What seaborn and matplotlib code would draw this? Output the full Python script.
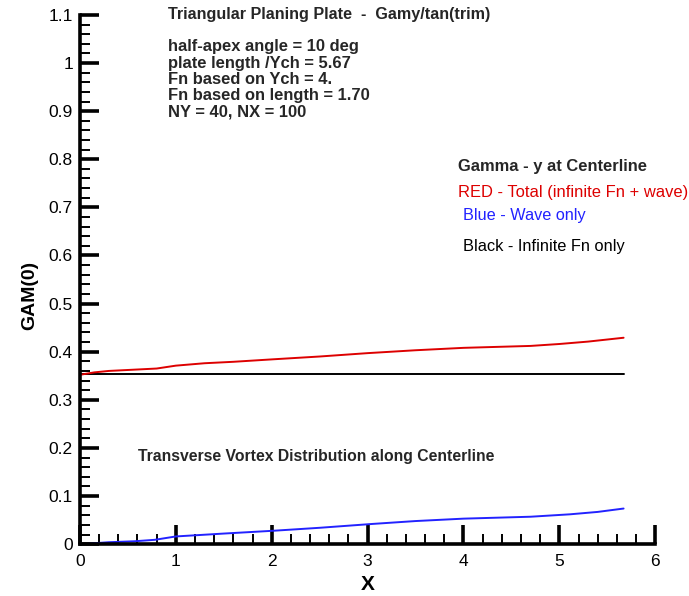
import matplotlib
matplotlib.use("Agg")
import matplotlib.pyplot as plt
import seaborn as sns
import numpy as np
import pandas as pd
from matplotlib.ticker import MultipleLocator, FuncFormatter

# Data
x_red = [0.0, 0.15, 0.3, 0.5, 0.8, 1.0, 1.3, 1.6, 2.0, 2.5, 3.0, 3.5, 4.0, 4.35, 4.7, 5.0, 5.3, 5.67]
gam_total = [0.352, 0.357, 0.360, 0.362, 0.365, 0.371, 0.376, 0.379, 0.384, 0.390, 0.397, 0.403, 0.408, 0.410, 0.412, 0.416, 0.421, 0.429]

x_black = [0.0, 1.0, 2.0, 3.0, 4.0, 5.0, 5.67]
gam_inf = [0.353, 0.353, 0.353, 0.353, 0.353, 0.353, 0.353]

x_blue = [0.05, 0.16, 0.3, 0.57, 0.78, 1.0, 1.5, 2.03, 2.5, 3.05, 3.5, 4.0, 4.35, 4.7, 5.11, 5.4, 5.67]
gam_wave = [0.000, 0.002, 0.004, 0.006, 0.009, 0.016, 0.022, 0.028, 0.034, 0.042, 0.048, 0.053, 0.055, 0.057, 0.062, 0.067, 0.074]

x_ticks = [0, 1, 2, 3, 4, 5, 6]

sns.set_style("ticks")
plt.rcParams['font.family'] = ['Liberation Sans', 'DejaVu Sans']

fig = plt.figure(figsize=(6.89, 5.96), dpi=100)
ax = fig.add_axes([0.116, 0.087, 0.835, 0.888])

df_red = pd.DataFrame({"x": x_red, "y": gam_total})
df_black = pd.DataFrame({"x": x_black, "y": gam_inf})
df_blue = pd.DataFrame({"x": x_blue, "y": gam_wave})

sns.lineplot(data=df_black, x="x", y="y", ax=ax, color="black", lw=1.4)
sns.lineplot(data=df_red, x="x", y="y", ax=ax, color="#dd0000", lw=1.4)
sns.lineplot(data=df_blue, x="x", y="y", ax=ax, color="#2222ff", lw=1.4)

ax.set_xlim(0, 6)
ax.set_ylim(0, 1.1)
ax.set_xticks(x_ticks)
ax.xaxis.set_minor_locator(MultipleLocator(0.2))
ax.yaxis.set_major_locator(MultipleLocator(0.1))
ax.yaxis.set_minor_locator(MultipleLocator(0.02))
ax.yaxis.set_major_formatter(FuncFormatter(lambda v, p: f"{v:.1f}".rstrip("0").rstrip(".") if abs(v) > 1e-9 else "0"))

for s in ["top", "right"]:
    ax.spines[s].set_visible(False)
for s in ["left", "bottom"]:
    ax.spines[s].set_linewidth(2.6)
    ax.spines[s].set_color("black")

ax.tick_params(which="major", direction="in", length=14, width=2.6, labelsize=12.5,
               color="black", labelcolor="black")
ax.tick_params(axis="x", which="major", pad=7)
ax.tick_params(axis="y", which="major", pad=5)
ax.tick_params(which="minor", direction="in", length=7, width=1.4, color="black")

ax.set_xlabel("X", fontsize=15, fontweight="bold", color="black")
ax.set_ylabel("GAM(0)", fontsize=14, fontweight="bold", color="black")
ax.xaxis.set_label_coords(0.5, -0.058)
ax.yaxis.set_label_coords(-0.073, 0.47)

fs = 11.9
fig.text(168/689, 1-15/596, "Triangular Planing Plate  -  Gamy/tan(trim)", fontsize=11.6, fontweight="bold", va="center")
info = ["half-apex angle = 10 deg", "plate length /Ych = 5.67", "Fn based on Ych = 4.",
        "Fn based on length = 1.70", "NY = 40, NX = 100"]
for i, t in enumerate(info):
    fig.text(168/689, 1-(47 + i*16.3)/596, t, fontsize=fs, fontweight="bold", va="center")

fig.text(458/689, 1-167/596, "Gamma - y at Centerline", fontsize=fs, fontweight="bold", va="center")
fig.text(458/689, 1-192/596, "RED - Total (infinite Fn + wave)", fontsize=11.9, color="#dd0000", va="center")
fig.text(463/689, 1-216/596, "Blue - Wave only", fontsize=11.7, color="#2222ff", va="center")
fig.text(463/689, 1-246/596, "Black - Infinite Fn only", fontsize=11.8, color="black", va="center")
fig.text(138/689, 1-456/596, "Transverse Vortex Distribution along Centerline", fontsize=11.3, fontweight="bold", va="center")

fig.savefig("out.png", dpi=100)
